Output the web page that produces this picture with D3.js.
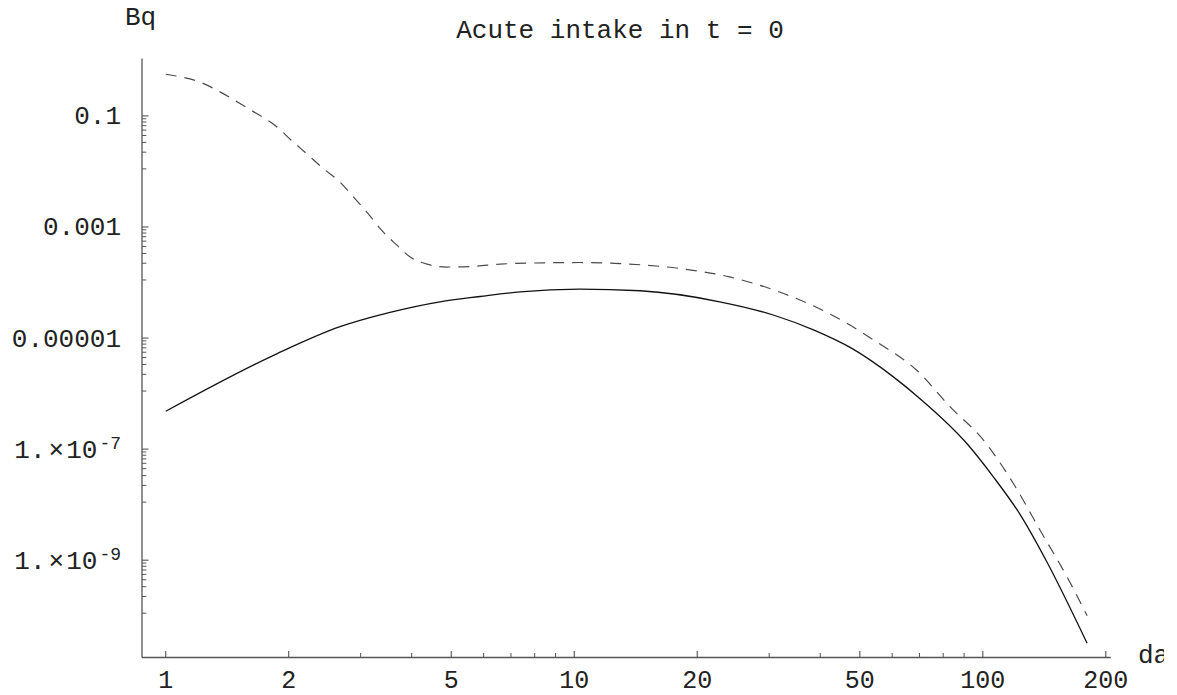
<!DOCTYPE html>
<html>
<head>
<meta charset="utf-8">
<script src="https://cdn.jsdelivr.net/npm/d3@7/dist/d3.min.js"></script>
<style>
  html, body { margin: 0; padding: 0; background: #fff; overflow: hidden; }
  svg { display: block; }
  text { font-family: "Liberation Mono", "DejaVu Sans Mono", monospace; fill: #222; }
</style>
</head>
<body>
<svg id="chart" width="1177" height="695"></svg>
<script>
// ---- data ----
const title = "Acute intake in t = 0";
const yAxisLabel = "Bq";
const xAxisLabel = "days";

// solid curve
const solidX = [1, 1.87, 2.67, 3.54, 4.69, 5.88, 7.37, 10.3, 14.5, 22.7, 30.7, 38.5, 47.8, 60.4, 70.2, 91.4, 106, 123, 143, 180];
const solidY = [4.8e-7, 5.2e-6, 1.6e-5, 2.9e-5, 4.5e-5, 5.6e-5, 6.8e-5, 7.6e-5, 7.1e-5, 4.5e-5, 2.6e-5, 1.4e-5, 6.5e-6, 2.0e-6, 8.1e-7, 1.26e-7, 3.2e-8, 6.9e-9, 9.8e-10, 3.2e-11];

// dashed curve
const dashX = [1, 1.225, 1.358, 1.52, 1.67, 1.85, 2.03, 2.21, 2.43, 2.67, 2.88, 3.13, 3.35, 3.68, 3.96, 4.36, 4.88, 5.67, 6.58, 7.82, 10.3, 12.95, 18.2, 24.0, 31.7, 42.1, 55, 69, 83.2, 100.4, 118.8, 138, 161, 180];
const dashY = [0.562, 0.394, 0.271, 0.167, 0.110, 0.068, 0.0365, 0.021, 0.0113, 0.00646, 0.00347, 0.00174, 0.00093, 0.00047, 0.00029, 0.000214, 0.00019, 0.000195, 0.000214, 0.000224, 0.000229, 0.000219, 0.000178, 0.000126, 6.8e-5, 2.75e-5, 8.5e-6, 2.6e-6, 5.75e-7, 1.45e-7, 2.4e-8, 3.5e-9, 4.9e-10, 1.0e-10];

// ticks
const xMajorTicks = [1, 2, 5, 10, 20, 50, 100, 200];
const xMajorLabels = ["1", "2", "5", "10", "20", "50", "100", "200"];
const xMinorTicks = [3, 4, 6, 7, 8, 9, 30, 40, 60, 70, 80, 90];
const yMajorTicks = [0.1, 0.001, 1e-5, 1e-7, 1e-9];
const yMajorLabels = [
  {plain: "0.1"}, {plain: "0.001"}, {plain: "0.00001"},
  {mant: "1.", exp: "-7"}, {mant: "1.", exp: "-9"}
];
const yMinorFactors = [1, 2, 3, 4, 5, 6, 7, 8]; // minor ticks at major*k/9

// ---- layout ----
const svg = d3.select("#chart");
const xLeft = 142, xRight = 1110.7, yTop = 58.5, yBottom = 657.5;

const x = d3.scaleLog().domain([0.875, 205.6]).range([xLeft, xRight]);
const y = d3.scaleLog().domain([1.08, 1.77e-11]).range([yTop, yBottom]);

const axisColor = "#555";

// clip for the axis label that is cut at the picture's right edge
svg.append("defs").append("clipPath").attr("id", "edgeClip")
  .append("rect").attr("x", 0).attr("y", 0).attr("width", 1164).attr("height", 695);

// axes lines
svg.append("line").attr("x1", xLeft).attr("x2", xRight).attr("y1", yBottom).attr("y2", yBottom)
  .attr("stroke", axisColor).attr("stroke-width", 1.3);
svg.append("line").attr("x1", xLeft).attr("x2", xLeft).attr("y1", yTop).attr("y2", yBottom)
  .attr("stroke", axisColor).attr("stroke-width", 1.3);

// x ticks
const xAxisG = svg.append("g");
xAxisG.selectAll("line.xmaj").data(xMajorTicks).join("line")
  .attr("x1", d => x(d)).attr("x2", d => x(d))
  .attr("y1", yBottom).attr("y2", yBottom - 6.5)
  .attr("stroke", axisColor).attr("stroke-width", 1.1);
xAxisG.selectAll("line.xmin").data(xMinorTicks).join("line")
  .attr("x1", d => x(d)).attr("x2", d => x(d))
  .attr("y1", yBottom).attr("y2", yBottom - 4.5)
  .attr("stroke", axisColor).attr("stroke-width", 1);
xAxisG.selectAll("text").data(xMajorTicks).join("text")
  .attr("x", d => x(d)).attr("y", 688)
  .attr("text-anchor", "middle").attr("font-size", 25)
  .text((d, i) => xMajorLabels[i]);

// y ticks
const yMinor = [];
yMajorTicks.forEach(m => yMinorFactors.forEach(k => {
  const v = m * k / 9;
  if (v >= y.domain()[1] && v <= y.domain()[0]) yMinor.push(v);
}));
const yAxisG = svg.append("g");
yAxisG.selectAll("line.ymaj").data(yMajorTicks).join("line")
  .attr("x1", xLeft).attr("x2", xLeft + 6.5)
  .attr("y1", d => y(d)).attr("y2", d => y(d))
  .attr("stroke", axisColor).attr("stroke-width", 1.1);
yAxisG.selectAll("line.ymin").data(yMinor).join("line")
  .attr("x1", xLeft).attr("x2", xLeft + 4.3)
  .attr("y1", d => y(d)).attr("y2", d => y(d))
  .attr("stroke", axisColor).attr("stroke-width", 1);

yMajorTicks.forEach((v, i) => {
  const lab = yMajorLabels[i];
  const t = yAxisG.append("text")
    .attr("x", 121).attr("y", y(v) + 8.5)
    .attr("text-anchor", "end").attr("font-size", 26);
  if (lab.plain) {
    t.text(lab.plain);
  } else {
    t.append("tspan").text(lab.mant);
    t.append("tspan").attr("dx", 3).text("\u00d7");
    t.append("tspan").attr("dx", 2).text("10");
    t.append("tspan").attr("dx", 2).attr("dy", -9).attr("font-size", 18).text(lab.exp);
  }
});

// curves
const line = d3.line().x(d => x(d[0])).y(d => y(d[1])).curve(d3.curveMonotoneX);
svg.append("path")
  .datum(solidX.map((v, i) => [v, solidY[i]]))
  .attr("d", line).attr("fill", "none")
  .attr("stroke", "#111").attr("stroke-width", 1.3);
svg.append("path")
  .datum(dashX.map((v, i) => [v, dashY[i]]))
  .attr("d", line).attr("fill", "none")
  .attr("stroke", "#4a4a4a").attr("stroke-width", 1.2)
  .attr("stroke-dasharray", "11,8");

// labels
svg.append("text").attr("x", 620).attr("y", 38).attr("text-anchor", "middle")
  .attr("font-size", 26).text(title);
svg.append("text").attr("x", 125).attr("y", 25).attr("font-size", 26).text(yAxisLabel);
svg.append("text").attr("x", 1138).attr("y", 663).attr("font-size", 26)
  .attr("clip-path", "url(#edgeClip)").text(xAxisLabel);
</script>
</body>
</html>
